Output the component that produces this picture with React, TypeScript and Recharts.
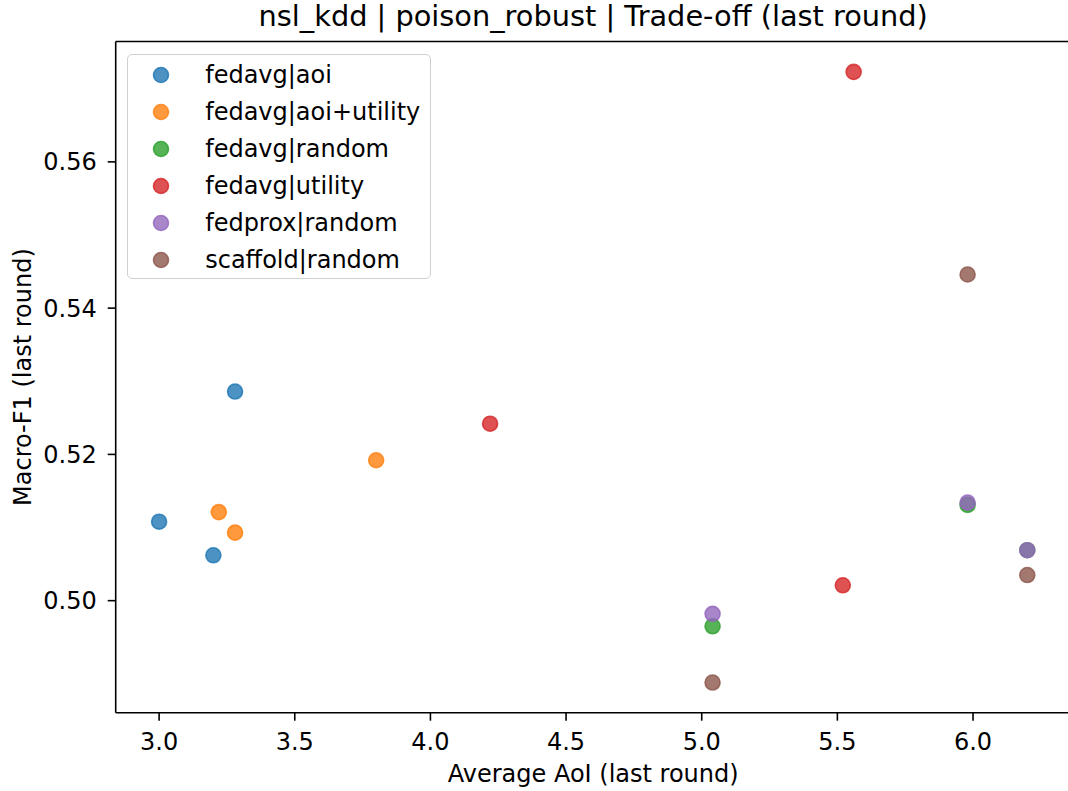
import { ScatterChart, Scatter, XAxis, YAxis, Legend, ReferenceLine } from "recharts"

const FONT = "'DejaVu Sans', sans-serif"

const SERIES_NAMES = [
  "fedavg|aoi",
  "fedavg|aoi+utility",
  "fedavg|random",
  "fedavg|utility",
  "fedprox|random",
  "scaffold|random",
]
const COLORS = ["#1f77b4", "#ff7f0e", "#2ca02c", "#d62728", "#9467bd", "#8c564b"]

// average AoI (x) and macro-F1 (y) per series, last round
const FEDAVG_AOI_X = [3.0, 3.2, 3.28]
const FEDAVG_AOI_Y = [0.5108, 0.5062, 0.5286]
const FEDAVG_AOI_UTIL_X = [3.22, 3.28, 3.8]
const FEDAVG_AOI_UTIL_Y = [0.5121, 0.5093, 0.5192]
const FEDAVG_RANDOM_X = [5.04, 5.98, 6.2]
const FEDAVG_RANDOM_Y = [0.4965, 0.5131, 0.5069]
const FEDAVG_UTIL_X = [4.22, 5.52, 5.56]
const FEDAVG_UTIL_Y = [0.5242, 0.5021, 0.5723]
const FEDPROX_RANDOM_X = [5.04, 5.98, 6.2]
const FEDPROX_RANDOM_Y = [0.4982, 0.5134, 0.5069]
const SCAFFOLD_RANDOM_X = [5.04, 5.98, 6.2]
const SCAFFOLD_RANDOM_Y = [0.4888, 0.5446, 0.5035]

const X_TICKS = [3.0, 3.5, 4.0, 4.5, 5.0, 5.5, 6.0]
const Y_TICKS = [0.5, 0.52, 0.54, 0.56]
const X_DOMAIN = [2.84, 6.36]
const Y_DOMAIN = [0.48468, 0.57646]

const MARKER_R = 7.5

const zip = (xs: number[], ys: number[]) => xs.map((x, i) => ({ aoi: x, f1: ys[i] }))

const series = [
  zip(FEDAVG_AOI_X, FEDAVG_AOI_Y),
  zip(FEDAVG_AOI_UTIL_X, FEDAVG_AOI_UTIL_Y),
  zip(FEDAVG_RANDOM_X, FEDAVG_RANDOM_Y),
  zip(FEDAVG_UTIL_X, FEDAVG_UTIL_Y),
  zip(FEDPROX_RANDOM_X, FEDPROX_RANDOM_Y),
  zip(SCAFFOLD_RANDOM_X, SCAFFOLD_RANDOM_Y),
].map((points, i) => ({ name: SERIES_NAMES[i], color: COLORS[i], points }))

const tickStyle = { fill: "#000", fontSize: 24, fontFamily: FONT }
const axisStroke = { stroke: "#000", strokeWidth: 1.6 }

function Dot({ cx, cy, color }: { cx?: number; cy?: number; color: string }) {
  if (cx == null || cy == null) return null
  return (
    <circle
      cx={cx}
      cy={cy}
      r={MARKER_R}
      fill={color}
      fillOpacity={0.8}
      stroke={color}
      strokeOpacity={0.8}
      strokeWidth={1.6}
    />
  )
}

function LegendBox() {
  return (
    <div
      style={{
        boxSizing: "border-box",
        width: 304,
        paddingTop: 2,
        border: "1.5px solid #d0d0d0",
        borderRadius: 5,
        background: "rgba(255,255,255,0.8)",
        fontFamily: FONT,
        fontSize: 24,
        color: "#000",
      }}
    >
      {series.map((s) => (
        <div key={s.name} style={{ display: "flex", alignItems: "center", height: 36.9 }}>
          <svg width={20} height={20} style={{ marginLeft: 23 }}>
            <Dot cx={10} cy={10} color={s.color} />
          </svg>
          <span style={{ marginLeft: 34.5, whiteSpace: "nowrap" }}>{s.name}</span>
        </div>
      ))}
    </div>
  )
}

export default function App() {
  return (
    <div
      style={{
        position: "absolute",
        left: 0,
        top: 0,
        width: 1068,
        height: 791,
        overflow: "hidden",
        background: "#fff",
      }}
    >
      <ScatterChart width={1080} height={791} margin={{ top: 41.5, right: 9.3, bottom: 0, left: 0 }}>
        <XAxis
          type="number"
          dataKey="aoi"
          domain={X_DOMAIN}
          allowDataOverflow
          ticks={X_TICKS}
          tickFormatter={(v: number) => v.toFixed(1)}
          height={78.3}
          tickSize={8}
          tickMargin={12}
          tick={tickStyle}
          axisLine={axisStroke}
          tickLine={axisStroke}
        />
        <YAxis
          type="number"
          dataKey="f1"
          domain={Y_DOMAIN}
          allowDataOverflow
          ticks={Y_TICKS}
          tickFormatter={(v: number) => v.toFixed(2)}
          width={115.7}
          tickSize={8}
          tickMargin={11}
          tick={tickStyle}
          axisLine={axisStroke}
          tickLine={axisStroke}
        />
        <ReferenceLine y={Y_DOMAIN[1]} stroke="#000" strokeWidth={1.6} />
        <ReferenceLine x={X_DOMAIN[1]} stroke="#000" strokeWidth={1.6} />
        {series.map((s) => (
          <Scatter
            key={s.name}
            name={s.name}
            data={s.points}
            fill={s.color}
            isAnimationActive={false}
            shape={(props: any) => <Dot cx={props.cx} cy={props.cy} color={s.color} />}
          />
        ))}
        <Legend
          layout="vertical"
          align="center"
          verticalAlign="middle"
          wrapperStyle={{ top: 54, left: 126.7, width: "auto" }}
          content={() => <LegendBox />}
        />
      </ScatterChart>
      <svg
        width={1068}
        height={791}
        style={{ position: "absolute", left: 0, top: 0, pointerEvents: "none" }}
        fontFamily={FONT}
      >
        <text x={593.2} y={26} textAnchor="middle" fontSize={28.8} fill="#000">
          nsl_kdd | poison_robust | Trade-off (last round)
        </text>
        <text x={593.2} y={782} textAnchor="middle" fontSize={24} fill="#000">
          Average AoI (last round)
        </text>
        <text x={31.5} y={377.1} textAnchor="middle" fontSize={24} fill="#000" transform="rotate(-90 31.5 377.1)">
          Macro-F1 (last round)
        </text>
      </svg>
    </div>
  )
}
